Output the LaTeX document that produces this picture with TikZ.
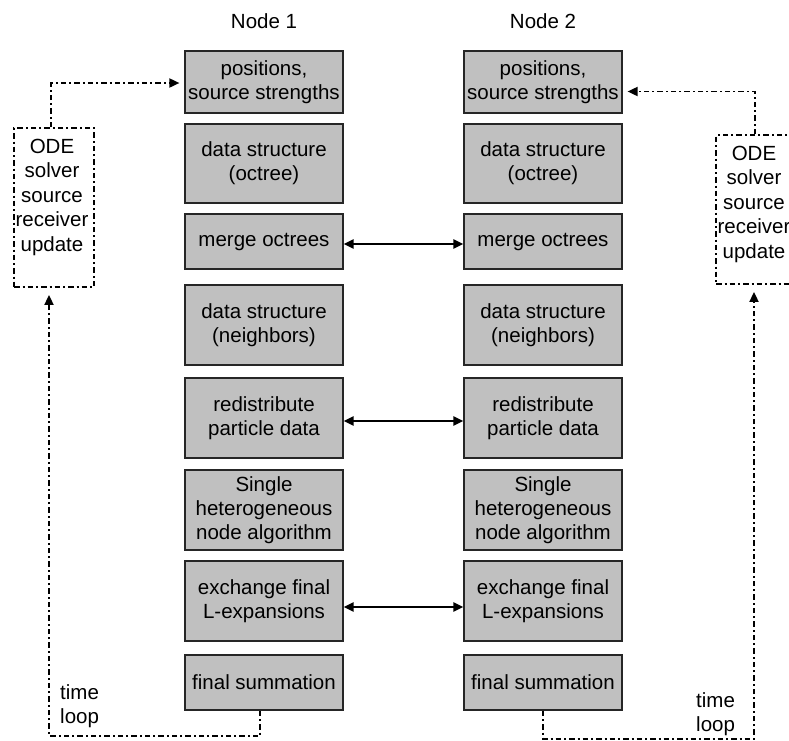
\documentclass[tikz,border=0pt]{standalone}
\usepackage{fontspec}
\setmainfont{Liberation Sans}
\usetikzlibrary{arrows.meta}
\definecolor{boxgray}{RGB}{192,192,192}
\tikzset{
  stage/.style={draw=black!85, line width=1.2pt, fill=boxgray, minimum width=158pt,
    align=center, inner sep=0pt, font=\fontsize{20.5}{24}\selectfont},
  dashdot/.style={line width=1.8pt, dash pattern=on 5.5pt off 3pt on 2pt off 3pt},
  odebox/.style={dashdot, draw=black, minimum width=80pt, inner sep=0pt},
  flow/.style={dashdot, -{Triangle[length=10pt,width=9pt]}},
  swap/.style={line width=2.2pt, {Triangle[length=10pt,width=9pt]}-{Triangle[length=10pt,width=9pt]}},
  plain/.style={font=\fontsize{20.5}{24.5}\selectfont, align=center, inner sep=0pt}
}
\begin{document}
\begin{tikzpicture}[x=1pt,y=-1pt]
\useasboundingbox (0,0) rectangle (789,740);
\clip (0,0) rectangle (789,740);

% column headings
\node[plain] (h1) at (264,21) {Node 1};
\node[plain] (h2) at (543,21) {Node 2};

% stages of node 1
\node[stage, minimum height=62pt] (l1) at (264,82)    {positions,\\source strengths};
\node[stage, minimum height=79pt] (l2) at (264,163.5) {data structure\\(octree)};
\node[stage, minimum height=55pt] (l3) at (264,241.5) {merge octrees};
\node[stage, minimum height=80pt] (l4) at (264,325)   {data structure\\(neighbors)};
\node[stage, minimum height=80pt] (l5) at (264,418)   {redistribute\\particle data};
\node[stage, minimum height=80pt] (l6) at (264,510)   {Single\\heterogeneous\\node algorithm};
\node[stage, minimum height=80pt] (l7) at (264,601)   {exchange final\\L-expansions};
\node[stage, minimum height=55pt] (l8) at (264,682.5) {final summation};

% stages of node 2
\node[stage, minimum height=62pt] (r1) at (543,82)    {positions,\\source strengths};
\node[stage, minimum height=79pt] (r2) at (543,163.5) {data structure\\(octree)};
\node[stage, minimum height=55pt] (r3) at (543,241.5) {merge octrees};
\node[stage, minimum height=80pt] (r4) at (543,325)   {data structure\\(neighbors)};
\node[stage, minimum height=80pt] (r5) at (543,418)   {redistribute\\particle data};
\node[stage, minimum height=80pt] (r6) at (543,510)   {Single\\heterogeneous\\node algorithm};
\node[stage, minimum height=80pt] (r7) at (543,601)   {exchange final\\L-expansions};
\node[stage, minimum height=55pt] (r8) at (543,682.5) {final summation};

% ODE solver boxes
\node[odebox, minimum height=159pt] (odeL) at (54,207.5) {};
\node[plain] (odeLt) at (52,197) {ODE\\solver\\source\\receiver\\update};
\node[odebox, minimum height=149pt] (odeR) at (756,209.5) {};
\node[plain] (odeRt) at (754,204) {ODE\\solver\\source\\receiver\\update};

% time loop labels
\node[plain, anchor=west, align=left] (tl) at (60,706) {time\\loop};
\node[plain, anchor=west, align=left] (tr) at (696,714) {time\\loop};

% communication between the nodes
\draw[swap] ([yshift=-2.5pt]l3.east) -- ([yshift=-2.5pt]r3.west);
\draw[swap] ([yshift=-3pt]l5.east) -- ([yshift=-3pt]r5.west);
\draw[swap] ([yshift=-6pt]l7.east) -- ([yshift=-6pt]r7.west);

% solver feeds new positions
\draw[flow, shorten >=5pt] ([xshift=-3pt]odeL.north) |- ([yshift=-1pt]l1.west);
\draw[flow, shorten >=5pt] ([xshift=-1pt]odeR.north) |- ([yshift=-9.5pt]r1.east);

% time loops back to the solver
\draw[flow, shorten >=7pt] ([xshift=-4pt]l8.south) -- ++(0,25) -| ([xshift=-5pt]odeL.south);
\draw[flow, shorten >=7pt] (r8.south) -- ++(0,28) -| ([xshift=-2pt]odeR.south);
\end{tikzpicture}
\end{document}
